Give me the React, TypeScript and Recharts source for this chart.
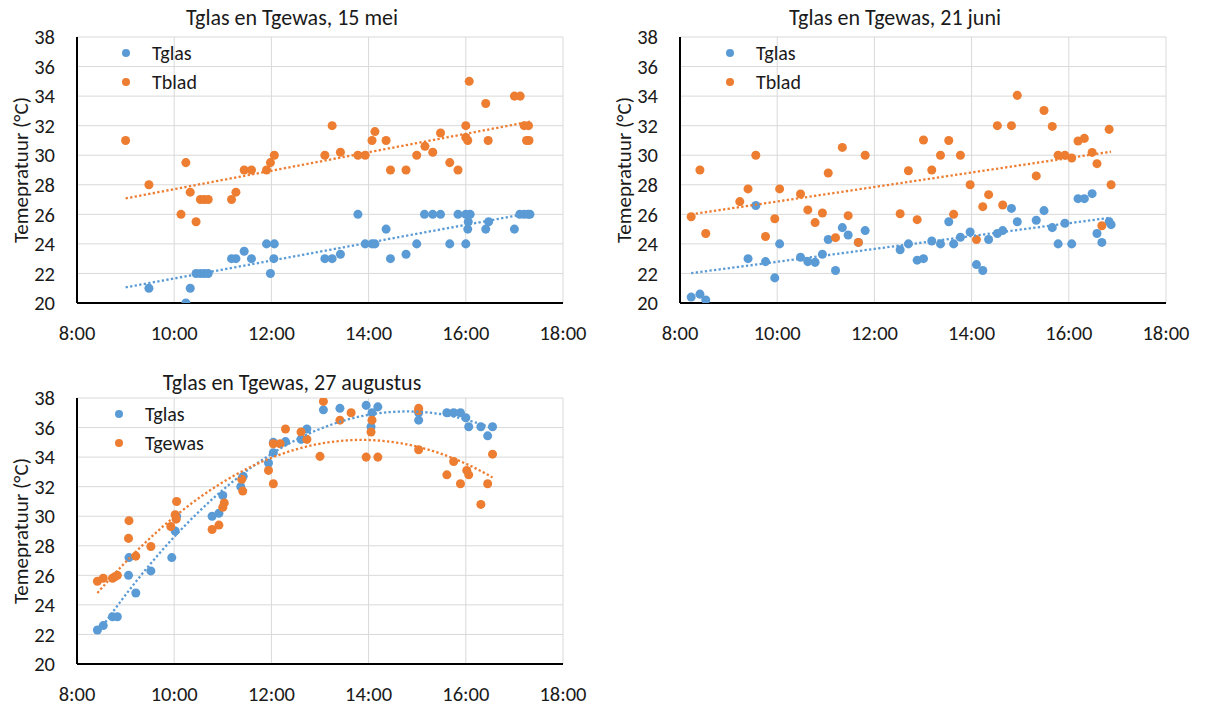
import { CartesianGrid, Legend, Scatter, ScatterChart, XAxis, YAxis, ZAxis } from "recharts"

const FONT = "Carlito, Calibri, Lato, sans-serif"
const BLUE = "#5B9BD5"
const ORANGE = "#ED7D31"
const INK = "#1a1a1a"

const hourTicks = [8, 10, 12, 14, 16, 18]
const tempTicks = [20, 22, 24, 26, 28, 30, 32, 34, 36, 38]

// 15 mei
const meiGlasTime = [9.48, 10.24, 10.33, 10.45, 10.54, 10.62, 10.7, 11.18, 11.27, 11.44, 11.59, 11.9, 11.98, 12.05, 12.06, 13.1, 13.25, 13.42, 13.78, 13.93, 14.07, 14.13, 14.36, 14.45, 14.77, 14.99, 15.15, 15.32, 15.48, 15.67, 15.84, 16.0, 16.09, 16.05, 16.04, 16.0, 16.41, 16.47, 17.0, 17.11, 17.2, 17.28, 17.32]
const meiGlasTemp = [21, 20, 21, 22, 22, 22, 22, 23, 23, 23.5, 23, 24, 22, 23, 24, 23, 23, 23.3, 26, 24, 24, 24, 25, 23, 23.3, 24, 26, 26, 26, 24, 26, 26, 26, 25.5, 25, 24, 25, 25.5, 25, 26, 26, 26, 26]
const meiBladTime = [9.0, 9.48, 10.14, 10.24, 10.33, 10.45, 10.54, 10.62, 10.7, 11.18, 11.27, 11.44, 11.59, 11.9, 11.98, 12.06, 13.1, 13.25, 13.42, 13.78, 13.93, 14.07, 14.13, 14.36, 14.45, 14.77, 14.99, 15.16, 15.32, 15.48, 15.67, 15.84, 16.0, 16.0, 16.04, 16.07, 16.41, 16.46, 17.0, 17.12, 17.2, 17.29, 17.25, 17.3]
const meiBladTemp = [31, 28, 26, 29.5, 27.5, 25.5, 27, 27, 27, 27, 27.5, 29, 29, 29, 29.5, 30, 30, 32, 30.2, 30, 30, 31, 31.6, 31, 29, 29, 30, 30.6, 30.2, 31.5, 29.5, 29, 32, 31.2, 31, 35, 33.5, 31, 34, 34, 32, 32, 31, 31]

// 21 juni
const juniGlasTime = [8.23, 8.41, 8.53, 9.4, 9.56, 9.76, 9.95, 10.05, 10.48, 10.63, 10.78, 10.93, 11.05, 11.2, 11.34, 11.46, 11.67, 11.81, 12.53, 12.7, 12.88, 13.01, 13.18, 13.36, 13.53, 13.63, 13.77, 13.97, 14.1, 14.23, 14.35, 14.53, 14.64, 14.82, 14.94, 15.33, 15.49, 15.66, 15.78, 15.92, 16.06, 16.19, 16.32, 16.48, 16.58, 16.68, 16.83, 16.87]
const juniGlasTemp = [20.4, 20.6, 20.2, 23.0, 26.6, 22.8, 21.7, 24.0, 23.1, 22.8, 22.75, 23.3, 24.3, 22.2, 25.1, 24.6, 24.1, 24.9, 23.6, 24.0, 22.9, 23.0, 24.2, 24.0, 25.5, 24.0, 24.45, 24.8, 22.6, 22.2, 24.3, 24.7, 24.9, 26.4, 25.5, 25.6, 26.25, 25.1, 24.0, 25.4, 24.0, 27.06, 27.06, 27.4, 24.7, 24.1, 25.5, 25.3]
const juniBladTime = [8.23, 8.41, 8.53, 9.23, 9.4, 9.56, 9.76, 9.95, 10.05, 10.48, 10.63, 10.78, 10.93, 11.05, 11.2, 11.34, 11.46, 11.67, 11.81, 12.53, 12.7, 12.88, 13.01, 13.18, 13.36, 13.53, 13.63, 13.77, 13.97, 14.1, 14.23, 14.35, 14.53, 14.64, 14.82, 14.94, 15.33, 15.49, 15.66, 15.78, 15.92, 16.06, 16.19, 16.32, 16.48, 16.58, 16.68, 16.83, 16.87]
const juniBladTemp = [25.84, 29.0, 24.7, 26.86, 27.72, 30.0, 24.5, 25.7, 27.72, 27.38, 26.3, 25.44, 26.09, 28.8, 24.42, 30.53, 25.91, 24.1, 30.0, 26.04, 28.95, 25.64, 31.03, 29.0, 30.0, 31.0, 26.0, 30.0, 28.0, 24.29, 26.52, 27.33, 32.0, 26.63, 32.0, 34.05, 28.6, 33.03, 31.95, 30.0, 30.0, 29.81, 30.96, 31.14, 30.19, 29.43, 25.23, 31.75, 28.0]

// 27 augustus
const augGlasTime = [8.42, 8.54, 8.73, 8.83, 9.06, 9.07, 9.21, 9.52, 9.95, 10.02, 10.05, 10.78, 10.92, 11.0, 11.37, 11.42, 11.94, 12.04, 12.04, 12.29, 12.61, 12.73, 13.07, 13.41, 13.95, 14.07, 14.05, 14.19, 15.03, 15.03, 15.61, 15.75, 15.89, 16.0, 16.06, 16.31, 16.45, 16.55]
const augGlasTemp = [22.3, 22.6, 23.2, 23.2, 26.0, 27.2, 24.8, 26.3, 27.2, 29.0, 30.0, 30.0, 30.2, 31.4, 32.0, 32.7, 33.6, 34.3, 35.0, 35.05, 35.2, 35.9, 37.2, 37.3, 37.5, 37.0, 36.05, 37.4, 37.0, 36.5, 37.0, 37.0, 37.0, 36.66, 36.05, 36.05, 35.44, 36.05]
const augGewasTime = [8.42, 8.54, 8.73, 8.78, 8.83, 9.06, 9.07, 9.21, 9.52, 9.93, 10.02, 10.04, 10.05, 10.78, 10.92, 11.0, 11.03, 11.39, 11.41, 11.94, 12.04, 12.04, 12.18, 12.29, 12.61, 12.73, 13.0, 13.07, 13.41, 13.64, 13.95, 14.07, 14.05, 14.19, 15.03, 15.03, 15.03, 15.61, 15.75, 15.89, 16.02, 16.06, 16.31, 16.45, 16.55]
const augGewasTemp = [25.6, 25.8, 25.8, 25.9, 26.0, 28.5, 29.7, 27.3, 27.95, 29.3, 30.1, 29.8, 31.0, 29.1, 29.4, 30.6, 30.9, 32.5, 31.7, 33.1, 32.2, 34.9, 34.9, 35.9, 35.7, 35.2, 34.05, 37.77, 36.5, 37.0, 34.0, 36.5, 35.7, 34.0, 37.3, 37.15, 34.5, 32.8, 33.7, 32.2, 33.1, 32.8, 30.8, 32.2, 34.2]

type Pt = { x: number; y: number }

const toPoints = (xs: number[], ys: number[]): Pt[] => xs.map((x, i) => ({ x, y: ys[i] }))

// least squares fit of given order, drawn from first to last time
const fitTrend = (xs: number[], ys: number[], order: number, from: number, to: number): Pt[] => {
    const m = order + 1
    const A: number[][] = Array.from({ length: m }, () => Array(m + 1).fill(0))
    xs.forEach((x, k) => {
        for (let i = 0; i < m; i++) {
            for (let j = 0; j < m; j++) A[i][j] += Math.pow(x, i + j)
            A[i][m] += ys[k] * Math.pow(x, i)
        }
    })
    for (let c = 0; c < m; c++) {
        for (let r = c + 1; r < m; r++) {
            const f = A[r][c] / A[c][c]
            for (let k = c; k <= m; k++) A[r][k] -= f * A[c][k]
        }
    }
    const coef = Array(m).fill(0)
    for (let r = m - 1; r >= 0; r--) {
        let s = A[r][m]
        for (let k = r + 1; k < m; k++) s -= A[r][k] * coef[k]
        coef[r] = s / A[r][r]
    }
    const steps = order === 1 ? 1 : 60
    return Array.from({ length: steps + 1 }, (_, i) => {
        const x = from + ((to - from) * i) / steps
        return { x, y: coef.reduce((acc, c, p) => acc + c * Math.pow(x, p), 0) }
    })
}

interface ISeries {
    name: string
    color: string
    time: number[]
    temp: number[]
}

interface IPanel {
    title: string
    left: number
    top: number
    titleTop: number
    legendLeft: number
    order: number
    series: ISeries[]
}

const AxisTitle = (props: any) => {
    const vb = props.viewBox || { x: 0, y: 37, width: 77, height: 266 }
    const cx = vb.x + 21
    const cy = vb.y + vb.height / 2
    return (
        <text x={cx} y={cy} transform={`rotate(-90 ${cx} ${cy})`} textAnchor="middle" dominantBaseline="central" fill={INK} fontSize={21} fontFamily={FONT}>
            Temepratuur (°C)
        </text>
    )
}

const Panel = ({ title, left, top, titleTop, legendLeft, order, series }: IPanel) => {
    const allTimes = series.flatMap((s) => s.time)
    const from = Math.min(...allTimes)
    const to = Math.max(...allTimes)

    return (
        <div style={{ position: "absolute", left, top, width: 603, height: 362 }}>
            <ScatterChart width={603} height={362} margin={{ top: 37, right: 40, left: 0, bottom: 0 }}>
                <CartesianGrid stroke="#D9D9D9" strokeWidth={1} />
                <XAxis
                    type="number"
                    dataKey="x"
                    domain={[8, 18]}
                    ticks={hourTicks}
                    tickFormatter={(h: number) => `${h}:00`}
                    height={59}
                    axisLine={{ stroke: "#000", strokeWidth: 2 }}
                    tickLine={false}
                    tickSize={0}
                    tickMargin={22}
                    tick={{ fill: INK, fontSize: 20.5, fontFamily: FONT }}
                    allowDataOverflow
                />
                <YAxis
                    type="number"
                    dataKey="y"
                    domain={[20, 38]}
                    ticks={tempTicks}
                    interval={0}
                    width={77}
                    axisLine={{ stroke: "#000", strokeWidth: 2 }}
                    tickLine={false}
                    tickSize={0}
                    tickMargin={22}
                    tick={{ fill: INK, fontSize: 20.5, fontFamily: FONT }}
                    label={{ content: AxisTitle }}
                    allowDataOverflow
                />
                <ZAxis range={[64, 64]} />
                <Legend
                    layout="vertical"
                    align="center"
                    verticalAlign="middle"
                    wrapperStyle={{ position: "absolute", left: legendLeft, top: 39, width: "auto", height: "auto" }}
                    content={(props: any) => {
                        const entries = (props.payload || []).filter((e: any) => series.some((s) => s.name === e.value))
                        entries.sort((a: any, b: any) => series.findIndex((s) => s.name === a.value) - series.findIndex((s) => s.name === b.value))
                        return (
                            <div style={{ fontFamily: FONT, fontSize: 20, color: INK }}>
                                {entries.map((entry: any) => (
                                    <div key={entry.value} style={{ display: "flex", alignItems: "center", height: 28.5 }}>
                                        <span style={{ width: 8, height: 8, borderRadius: "50%", background: series.find((s) => s.name === entry.value)?.color, marginRight: 22 }} />
                                        <span>{entry.value}</span>
                                    </div>
                                ))}
                            </div>
                        )
                    }}
                />
                {series.map((s) => (
                    <Scatter key={s.name} name={s.name} data={toPoints(s.time, s.temp)} fill={s.color} isAnimationActive={false} />
                ))}
                {series.map((s) => (
                    <Scatter
                        key={s.name + "-trend"}
                        name={s.name + " trend"}
                        data={fitTrend(s.time, s.temp, order, from, to)}
                        fill="none"
                        line={{ stroke: s.color, strokeWidth: 2.3, strokeDasharray: "2.3 2.3" }}
                        shape={() => <g />}
                        legendType="none"
                        isAnimationActive={false}
                    />
                ))}
            </ScatterChart>
            <div style={{ position: "absolute", left: 0, top: titleTop, width: 584, textAlign: "center", fontFamily: FONT, fontSize: 22, color: INK, lineHeight: "24px" }}>
                {title}
            </div>
        </div>
    )
}

export default function App() {
    return (
        <div style={{ position: "absolute", left: 0, top: 0, width: 1206, height: 706, background: "#fff" }}>
            <Panel
                title="Tglas en Tgewas, 15 mei"
                left={0}
                top={0}
                titleTop={6}
                legendLeft={122}
                order={1}
                series={[
                    { name: "Tglas", color: BLUE, time: meiGlasTime, temp: meiGlasTemp },
                    { name: "Tblad", color: ORANGE, time: meiBladTime, temp: meiBladTemp },
                ]}
            />
            <Panel
                title="Tglas en Tgewas, 21 juni"
                left={603}
                top={0}
                titleTop={6}
                legendLeft={123}
                order={1}
                series={[
                    { name: "Tglas", color: BLUE, time: juniGlasTime, temp: juniGlasTemp },
                    { name: "Tblad", color: ORANGE, time: juniBladTime, temp: juniBladTemp },
                ]}
            />
            <Panel
                title="Tglas en Tgewas, 27 augustus"
                left={0}
                top={361}
                titleTop={10}
                legendLeft={115}
                order={2}
                series={[
                    { name: "Tglas", color: BLUE, time: augGlasTime, temp: augGlasTemp },
                    { name: "Tgewas", color: ORANGE, time: augGewasTime, temp: augGewasTemp },
                ]}
            />
        </div>
    )
}
